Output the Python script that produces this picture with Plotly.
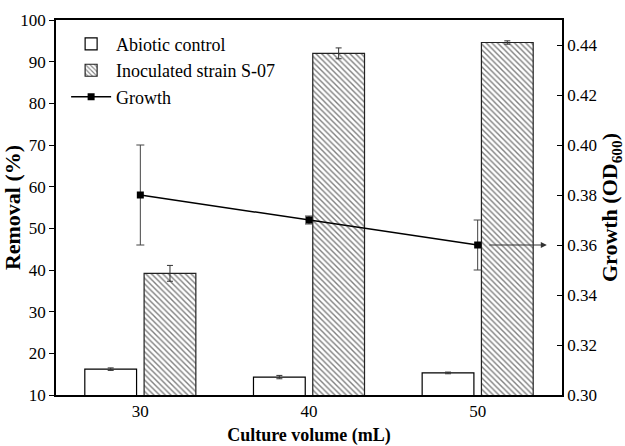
import plotly.graph_objects as go

categories = ["30", "40", "50"]
abiotic = [16.2, 14.3, 15.3]
abiotic_err = [0.3, 0.4, 0.2]
inoculated = [39.2, 92.0, 94.6]
inoculated_err = [1.9, 1.3, 0.4]
growth = [0.380, 0.370, 0.360]
growth_err = [0.020, 0.0016, 0.010]

FONT = "Times New Roman, Liberation Serif, serif"

fig = go.Figure()
fig.add_trace(go.Bar(
    x=categories, y=abiotic, name="Abiotic control",
    marker=dict(color="white", line=dict(color="black", width=1.2)),
    error_y=dict(type="data", array=abiotic_err, color="#333", thickness=1, width=3),
))
fig.add_trace(go.Bar(
    x=categories, y=inoculated, name="Inoculated strain S-07",
    marker=dict(color="white", line=dict(color="#222", width=1.2),
                pattern=dict(shape="\\", size=4, solidity=0.35, fgcolor="black", bgcolor="white")),
    error_y=dict(type="data", array=inoculated_err, color="#333", thickness=1, width=3),
))
fig.add_trace(go.Scatter(
    x=categories, y=growth, name="Growth", yaxis="y2", mode="lines+markers",
    line=dict(color="black", width=1.5),
    marker=dict(symbol="square", size=7, color="black"),
    error_y=dict(type="data", array=growth_err, color="#444", thickness=1, width=4),
))

fig.add_annotation(
    x=2.41, y=growth[2], xref="x", yref="y2",
    ax=2.06, ay=growth[2], axref="x", ayref="y2",
    text="", showarrow=True, arrowhead=2, arrowsize=1.2, arrowwidth=1, arrowcolor="#333",
)

fig.update_layout(
    width=625, height=446,
    margin=dict(l=56, r=63, t=20, b=51),
    paper_bgcolor="white", plot_bgcolor="white",
    barmode="group", bargap=0.297, bargroupgap=0.127,
    font=dict(family=FONT, size=17, color="black"),
    showlegend=True,
    legend=dict(x=0.02, y=0.985, xanchor="left", yanchor="top",
                bgcolor="rgba(0,0,0,0)", font=dict(family=FONT, size=18),
                tracegroupgap=0, itemwidth=40),
    xaxis=dict(
        range=[-0.5, 2.5], showline=True, linecolor="black", linewidth=1.5, mirror=True,
        ticks="", tickfont=dict(family=FONT, size=17), automargin=False,
        title=dict(text="<b>Culture volume (mL)</b>", font=dict(family=FONT, size=18), standoff=8),
    ),
    yaxis=dict(
        range=[10, 100], dtick=10, showline=True, linecolor="black", linewidth=1.5,
        ticks="outside", ticklen=5, tickcolor="black", showgrid=False, zeroline=False,
        tickfont=dict(family=FONT, size=17), automargin=False,
        title=dict(text="<b>Removal (%)</b>", font=dict(family=FONT, size=22), standoff=2),
    ),
    yaxis2=dict(
        range=[0.30, 0.45], dtick=0.02, tick0=0.30, tickformat=".2f", overlaying="y", side="right",
        showline=True, linecolor="black", linewidth=1.5, automargin=False,
        ticks="inside", ticklen=5, tickcolor="black", showgrid=False, zeroline=False,
        tickfont=dict(family=FONT, size=17),
        title=dict(text="<b>Growth (OD<sub>600</sub>)</b>", font=dict(family=FONT, size=22), standoff=0),
    ),
)

fig.write_html("out.html")
